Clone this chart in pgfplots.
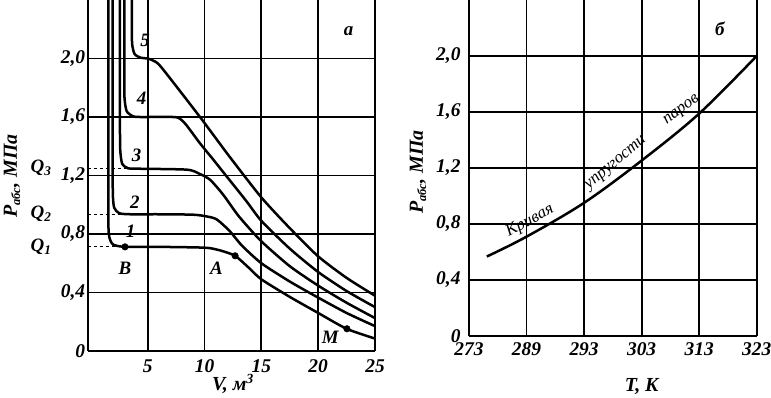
\documentclass[border=0pt]{standalone}
\usepackage{fontspec}
\setmainfont{Liberation Serif}
\usepackage{pgfplots}
\pgfplotsset{compat=1.18}
\begin{document}
\begin{tikzpicture}
\path[use as bounding box] (0,0) rectangle (771bp,398bp);
\pgfplotsset{
 common/.style={
  scale only axis, clip=false,
  axis x line*=bottom, axis y line*=left,
  axis line style={line width=1.8bp,-},
  grid=major, grid style={line width=1.8bp, black},
  major tick length=0pt,
  tick label style={font=\fontsize{19.5}{22}\selectfont\bfseries\itshape},
  ymin=0, ymax=2.4,
  ytick={0,0.4,0.8,1.2,1.6,2.0},
  yticklabels={0,{0,4},{0,8},{1,2},{1,6},{2,0}},
 },
 curve/.style={line width=2.5bp, black, smooth, tension=0.4},
}
% ---------------- panel a ----------------
\begin{axis}[common, width=287.3bp, height=351bp, at={(87.7bp,47bp)}, anchor=south west,
  xmin=-0.28, xmax=25, xtick={5,10,15,20,25}, xticklabels={5,10,15,20,25},
  xticklabel style={yshift=-5bp},
  yticklabel style={xshift=1bp}]
% curve 1
\addplot[curve] coordinates {(1.53,2.4) (1.53,1.4) (1.54,0.88) (1.62,0.78) (1.95,0.728) (3.0,0.712) (6,0.712) (9.4,0.708) (10.5,0.703) (11.5,0.685) (12.69,0.651) (13.87,0.571) (15,0.49) (17.5,0.37) (20,0.26) (22.5,0.152) (25,0.085)};
% curve 2
\addplot[curve] coordinates {(1.92,2.4) (1.92,1.4) (1.93,1.08) (2.05,0.98) (2.5,0.942) (3.44,0.935) (6,0.935) (9.0,0.932) (10.2,0.92) (11.07,0.9) (12.19,0.822) (13.3,0.72) (15,0.60) (17.5,0.475) (20,0.365) (22.5,0.26) (25,0.17)};
% curve 3
\addplot[curve] coordinates {(2.56,2.4) (2.56,1.6) (2.58,1.38) (2.75,1.28) (3.2,1.252) (3.73,1.247) (8.43,1.24) (9.6,1.21) (10.5,1.17) (11.63,1.07) (13.03,0.92) (15,0.75) (17.5,0.58) (20,0.447) (22.5,0.33) (25,0.225)};
% curve 4
\addplot[curve] coordinates {(2.94,2.4) (2.94,1.9) (2.96,1.73) (3.15,1.64) (3.7,1.605) (4.32,1.6) (7.2,1.6) (7.8,1.59) (8.4,1.545) (9.6,1.42) (10.65,1.32) (12.19,1.17) (13.73,1.02) (15,0.89) (17.5,0.70) (20,0.54) (22.5,0.41) (25,0.30)};
% curve 5
\addplot[curve] coordinates {(3.6,2.4) (3.6,2.25) (3.63,2.1) (3.85,2.03) (4.4,2.005) (5.0,2.0) (5.5,1.985) (6.2,1.94) (9.6,1.60) (12.19,1.33) (15,1.05) (17.5,0.84) (20,0.647) (22.5,0.5) (25,0.378)};
% Q lines
\addplot[black, line width=1bp, dashed] coordinates {(-0.28,0.712) (3.0,0.712)};
\addplot[black, line width=1bp, dashed] coordinates {(-0.28,0.935) (2.7,0.935)};
\addplot[black, line width=1bp, dashed] coordinates {(-0.28,1.25) (3.4,1.25)};
% points B, A, M
\addplot[only marks, mark=*, mark size=3.3bp, black] coordinates {(3.0,0.712) (12.69,0.651) (22.53,0.152)};
\begin{scope}[every node/.style={font=\fontsize{19}{22}\selectfont\bfseries\itshape}]
\node at (axis cs:4.77,2.126) {5};
\node at (axis cs:4.47,1.726) {4};
\node at (axis cs:4.03,1.339) {3};
\node at (axis cs:3.88,1.02) {2};
\node at (axis cs:3.5,0.82) {1};
\node at (axis cs:3.0,0.565) {B};
\node at (axis cs:11.05,0.565) {A};
\node at (axis cs:21.07,0.094) {M};
\node at (axis cs:22.67,2.19) {а};
\node at (axis cs:-4.39,1.25) {Q\textsubscript{3}};
\node at (axis cs:-4.39,0.935) {Q\textsubscript{2}};
\node at (axis cs:-4.39,0.712) {Q\textsubscript{1}};
\end{scope}
\end{axis}
% ---------------- panel b ----------------
\begin{axis}[common, width=287.7bp, height=335.7bp, at={(469bp,62.3bp)}, anchor=south west,
  xmin=0, xmax=5, xtick={0,1,2,3,4,5},
  xticklabels={273,289,293,303,313,323},
  xticklabel style={yshift=-3bp},
  yticklabel style={xshift=-5bp}]
\addplot[curve, tension=0.55] coordinates {(0.31,0.566) (1,0.708) (2,0.95) (3,1.252) (4,1.588) (5,2.0)};
\begin{scope}[every node/.style={font=\fontsize{17}{20}\selectfont\itshape, inner sep=0pt}]
\node[rotate=28] at (axis cs:1.06,0.82) {Кривая};
\node[rotate=40] at (axis cs:2.56,1.23) {упругости};
\node[rotate=37] at (axis cs:3.7,1.61) {паров};
\end{scope}
\node[font=\fontsize{19}{22}\selectfont\bfseries\itshape] at (axis cs:4.36,2.196) {б};
\end{axis}
% axis labels
\begin{scope}[every node/.style={font=\fontsize{20}{24}\selectfont\bfseries\itshape}]
\node at (233bp,14bp) {V, м\textsuperscript{3}};
\node at (641.7bp,11bp) {T, K};
\node[rotate=90] at (12bp,222bp) {P\raisebox{-0.35ex}{\fontsize{12.5}{14}\selectfont абс}, МПа};
\node[rotate=90] at (418bp,226bp) {P\raisebox{-0.35ex}{\fontsize{12.5}{14}\selectfont абс}, МПа};
\end{scope}
\end{tikzpicture}
\end{document}
